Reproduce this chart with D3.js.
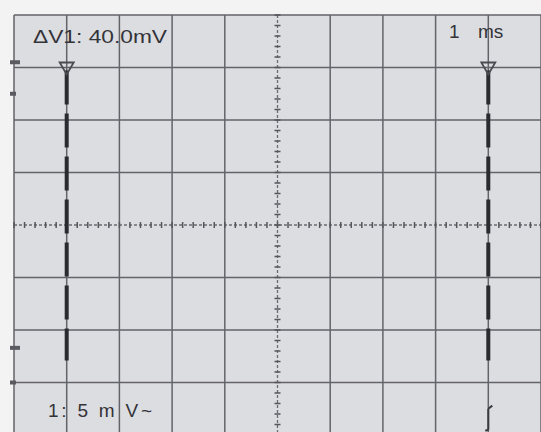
<!DOCTYPE html>
<html><head><meta charset="utf-8">
<script src="https://cdn.jsdelivr.net/npm/d3@7"></script>
<style>html,body{margin:0;padding:0;background:#f2f2f2;}svg{display:block;}</style>
</head><body>
<script>
// Data
const timeDivs = [-5,-4,-3,-2,-1,0,1,2,3,4,5];      // ms (1 ms/div)
const voltDivs = [20,15,10,5,0,-5,-10,-15,-20];     // mV (5 mV/div)
const cursorTimes = [-4, 4];                         // ms
const cursorTop = 15;                                // mV
const cursorBottom = -12.9;                          // mV
const leftMarkers = [15.5, 12.5, -11.7, -15];        // mV
const labelDeltaV = "\u0394V1: 40.0mV";
const labelTime = ["1", "ms"];
const labelChannel = "1: 5 m V~";

const W = 541, H = 432;
const svg = d3.select("body").append("svg").attr("width", W).attr("height", H);

const x = d3.scaleLinear().domain([-5, 5]).range([14, 541]);
const y = d3.scaleLinear().domain([20, -20]).range([15, 435]);

svg.append("rect").attr("width", W).attr("height", H).attr("fill", "#f3f3f3");
svg.append("rect").attr("x", x(-5)).attr("y", y(20)).attr("width", x(5)-x(-5)).attr("height", y(-20)-y(20)).attr("fill", "#dcdde1");

const g = svg.append("g");
// grid
g.selectAll("line.v").data(timeDivs.filter(d => d !== 0)).join("line")
  .attr("x1", d => x(d)).attr("x2", d => x(d)).attr("y1", y(20)).attr("y2", y(-20))
  .attr("stroke", "#636369").attr("stroke-width", 1.5);
g.selectAll("line.h").data(voltDivs.filter(d => d !== 0)).join("line")
  .attr("y1", d => y(d)).attr("y2", d => y(d)).attr("x1", x(-5)).attr("x2", x(5))
  .attr("stroke", "#636369").attr("stroke-width", 1.5);
// center axes (dotted)
g.append("line").attr("x1", x(0)).attr("x2", x(0)).attr("y1", y(20)).attr("y2", y(-20))
  .attr("stroke", "#6a6a70").attr("stroke-width", 1.3).attr("stroke-dasharray", "3 2");
g.append("line").attr("y1", y(0)).attr("y2", y(0)).attr("x1", x(-5)).attr("x2", x(5))
  .attr("stroke", "#6a6a70").attr("stroke-width", 1.3).attr("stroke-dasharray", "3 2");

// center axes ticks (5 per division)
const minorT = d3.range(-5, 5.001, 0.2);
const minorV = d3.range(-20, 20.001, 1);
g.selectAll("line.tx").data(minorT).join("line")
  .attr("x1", d => x(d)).attr("x2", d => x(d)).attr("y1", y(0)-3).attr("y2", y(0)+3)
  .attr("stroke", "#55555a").attr("stroke-width", 1.5);
g.selectAll("line.ty").data(minorV).join("line")
  .attr("y1", d => y(d)).attr("y2", d => y(d)).attr("x1", x(0)-3).attr("x2", x(0)+3)
  .attr("stroke", "#55555a").attr("stroke-width", 1.5);

// cursors
cursorTimes.forEach(t => {
  g.append("line").attr("x1", x(t)).attr("x2", x(t))
    .attr("y1", y(cursorTop)+3).attr("y2", y(cursorBottom))
    .attr("stroke", "#2a2a2f").attr("stroke-width", 4)
    .attr("stroke-dasharray", "34 9");
  const cx = x(t), cy = y(cursorTop);
  g.append("path")
    .attr("d", `M${cx-7},${cy-5} L${cx+7},${cy-5} L${cx},${cy+7} Z`)
    .attr("fill", "none").attr("stroke", "#4a4a50").attr("stroke-width", 1.8);
});

// left markers
g.selectAll("rect.m").data(leftMarkers).join("rect")
  .attr("x", 10).attr("y", d => y(d)-2).attr("width", (d,i) => i%2 ? 6 : 10).attr("height", 4)
  .attr("fill", "#5a5a60");

// trigger symbol at bottom right
const tx = x(4);
g.append("path")
  .attr("d", `M${tx},${y(-17.5)} L${tx},${y(-19.5)} M${tx},${y(-17.5)} L${tx+4},${y(-17.2)} M${tx},${y(-19.5)} L${tx-3},${y(-19.6)}`)
  .attr("stroke", "#3a3a40").attr("stroke-width", 2).attr("fill", "none");

// texts
const font = "Liberation Sans, Arial, sans-serif";
svg.append("text").attr("x", 33).attr("y", 43).text(labelDeltaV)
  .attr("font-family", font).attr("font-size", 19).attr("fill", "#333338")
  .attr("textLength", 134).attr("lengthAdjust", "spacingAndGlyphs");
svg.append("text").attr("x", 449).attr("y", 38).text(labelTime[0])
  .attr("font-family", font).attr("font-size", 19).attr("fill", "#333338");
svg.append("text").attr("x", 478).attr("y", 38).text(labelTime[1])
  .attr("font-family", font).attr("font-size", 19).attr("fill", "#333338");
svg.append("text").attr("x", 48).attr("y", 417).text(labelChannel)
  .attr("font-family", font).attr("font-size", 19).attr("fill", "#333338")
  .attr("textLength", 104).attr("lengthAdjust", "spacing");
</script>
</body></html>
